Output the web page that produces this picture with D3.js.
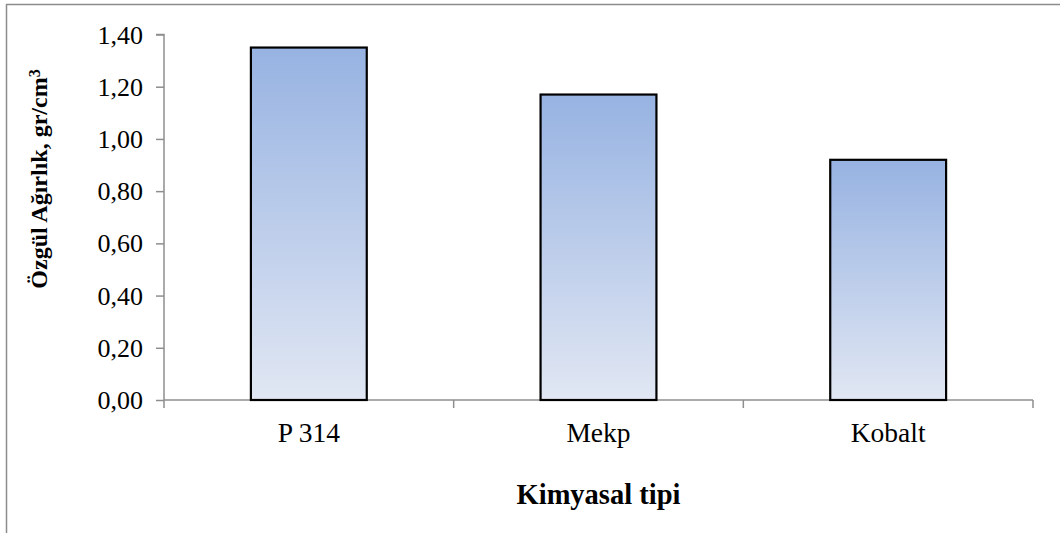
<!DOCTYPE html>
<html>
<head>
<meta charset="utf-8">
<script src="https://cdn.jsdelivr.net/npm/d3@7"></script>
<style>
  html, body { margin: 0; padding: 0; background: #fff; }
  svg { display: block; }
</style>
</head>
<body>
<svg id="chart" width="1060" height="533"></svg>
<script>
// Specific gravity by chemical type
const categories = ["P 314", "Mekp", "Kobalt"];
const values = [1.35, 1.17, 0.92];
const yTicks = [0, 0.2, 0.4, 0.6, 0.8, 1.0, 1.2, 1.4];

const FONT = "'Liberation Serif', 'Times New Roman', Tinos, serif";

const svg = d3.select("#chart").style("font-family", FONT);
const W = 1060, H = 533;

// frame of the chart area
svg.append("line").attr("x1", 6).attr("x2", W).attr("y1", 4.5).attr("y2", 4.5)
  .attr("stroke", "#8c8c8c").attr("stroke-width", 1.5);
svg.append("line").attr("x1", 6.5).attr("x2", 6.5).attr("y1", 4).attr("y2", H)
  .attr("stroke", "#8c8c8c").attr("stroke-width", 1.5);

const plot = { left: 164, right: 1033, top: 34.5, bottom: 400 };

const x = d3.scaleBand().domain(categories).range([plot.left, plot.right]).padding(0);
const y = d3.scaleLinear().domain([0, 1.4]).range([plot.bottom, plot.top]);

// bar gradient
const defs = svg.append("defs");
const grad = defs.append("linearGradient").attr("id", "barFill")
  .attr("x1", 0).attr("y1", 0).attr("x2", 0).attr("y2", 1);
grad.append("stop").attr("offset", "0%").attr("stop-color", "#97b3e2");
grad.append("stop").attr("offset", "100%").attr("stop-color", "#e1e7f3");

const axisColor = "#8e8e8e";

// y axis
const yAxis = svg.append("g").attr("transform", `translate(${plot.left},0)`)
  .call(d3.axisLeft(y).tickValues(yTicks).tickSize(8).tickPadding(13)
    .tickFormat(d => d3.format(".2f")(d).replace(".", ",")));
yAxis.attr("font-family", null).style("font-family", FONT);
yAxis.select(".domain").attr("stroke", axisColor).attr("stroke-width", 1.5)
  .attr("d", `M-8,${plot.top}H0V${plot.bottom}`);
yAxis.selectAll(".tick line").attr("stroke", axisColor).attr("stroke-width", 1.5);
yAxis.selectAll(".tick text").attr("font-size", 26)
  .style("font-family", FONT).attr("fill", "#000").attr("dy", "0.33em");

// x axis
const bandEdges = categories.map(c => x(c)).concat([plot.right]);
svg.append("line").attr("x1", plot.left).attr("x2", plot.right)
  .attr("y1", plot.bottom).attr("y2", plot.bottom)
  .attr("stroke", axisColor).attr("stroke-width", 1.5);
svg.selectAll(".xtick").data(bandEdges).enter().append("line")
  .attr("class", "xtick")
  .attr("x1", d => d).attr("x2", d => d)
  .attr("y1", plot.bottom).attr("y2", plot.bottom + 8)
  .attr("stroke", axisColor).attr("stroke-width", 1.5);
svg.selectAll(".xlabel").data(categories).enter().append("text")
  .attr("class", "xlabel")
  .attr("x", d => x(d) + x.bandwidth() / 2)
  .attr("y", 442)
  .attr("text-anchor", "middle")
  .attr("font-size", 27.5)
  .style("font-family", FONT)
  .text(d => d);

// bars
const barW = x.bandwidth() * 0.4;
svg.selectAll(".bar").data(values).enter().append("rect")
  .attr("class", "bar")
  .attr("x", (d, i) => x(categories[i]) + (x.bandwidth() - barW) / 2)
  .attr("y", d => y(d))
  .attr("width", barW)
  .attr("height", d => y(0) - y(d))
  .attr("fill", "url(#barFill)")
  .attr("stroke", "#000").attr("stroke-width", 2.2);

// axis titles
svg.append("text")
  .attr("x", (plot.left + plot.right) / 2).attr("y", 504)
  .attr("text-anchor", "middle").attr("font-weight", "bold").attr("font-size", 28.5)
  .style("font-family", FONT)
  .text("Kimyasal tipi");

const yTitle = svg.append("text")
  .attr("transform", "translate(47,179) rotate(-90)")
  .attr("text-anchor", "middle").attr("font-weight", "bold").attr("font-size", 24)
  .style("font-family", FONT);
yTitle.append("tspan").text("Özgül Ağırlık, gr/cm");
yTitle.append("tspan").attr("dy", "-0.45em").attr("font-size", 16).text("3");
</script>
</body>
</html>
